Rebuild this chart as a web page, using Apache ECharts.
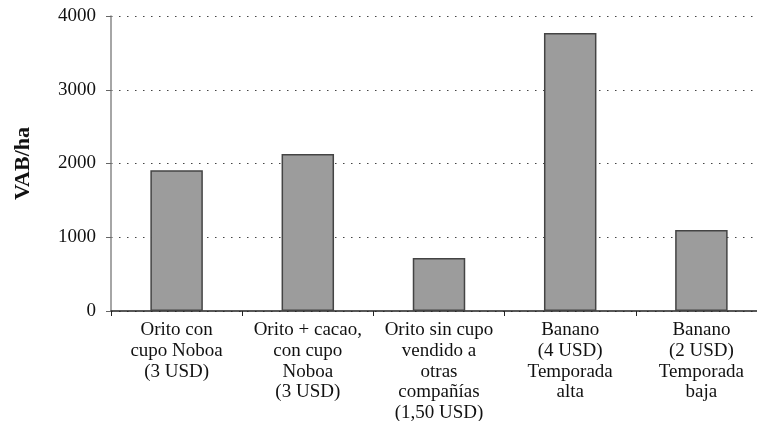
<!DOCTYPE html>
<html>
<head>
<meta charset="utf-8">
<script src="https://cdn.jsdelivr.net/npm/echarts@6/dist/echarts.min.js"></script>
<style>
  html, body { margin: 0; padding: 0; background: #ffffff; overflow: hidden; }
  #chart { width: 757px; height: 421px; }
</style>
</head>
<body>
<div id="chart"></div>
<script>
// Gross value added per hectare by product and selling channel
const categories = [
  'Orito con\ncupo Noboa\n(3 USD)',
  'Orito + cacao,\ncon cupo\nNoboa\n(3 USD)',
  'Orito sin cupo\nvendido a\notras\ncompañías\n(1,50 USD)',
  'Banano\n(4 USD)\nTemporada\nalta',
  'Banano\n(2 USD)\nTemporada\nbaja'
];
const vabValues = [1910, 2130, 720, 3770, 1100];
const yTicks = { min: 0, max: 4000, interval: 1000 };
const yName = 'VAB/ha';

const serif = '"Liberation Serif", "Times New Roman", serif';
const chart = echarts.init(document.getElementById('chart'), null, { renderer: 'canvas' });

chart.setOption({
  backgroundColor: '#ffffff',
  animation: false,
  // the last category runs slightly past the right edge of the page
  grid: { left: 111, width: 656, top: 16, bottom: 110, containLabel: false, outerBoundsMode: 'none' },
  xAxis: {
    type: 'category',
    data: categories,
    axisLine: { show: true, lineStyle: { color: '#222', width: 1.5 } },
    axisTick: { show: true, length: 5, alignWithLabel: false, lineStyle: { color: '#222', width: 1 } },
    axisLabel: {
      interval: 0,
      margin: 9,
      color: '#111',
      fontFamily: serif,
      fontSize: 19,
      lineHeight: 20.7
    },
    splitLine: { show: false }
  },
  yAxis: {
    type: 'value',
    min: yTicks.min,
    max: yTicks.max,
    interval: yTicks.interval,
    name: yName,
    nameLocation: 'middle',
    nameGap: 77,
    nameRotate: 90,
    nameTextStyle: { fontFamily: serif, fontSize: 22, fontWeight: 'bold', color: '#111' },
    axisLine: { show: true, lineStyle: { color: '#888', width: 1.5 } },
    axisTick: { show: true, length: 5, lineStyle: { color: '#666', width: 1 } },
    axisLabel: {
      margin: 15, color: '#111', fontFamily: serif, fontSize: 19,
      formatter: (v) => String(v)
    },
    splitLine: { show: true, lineStyle: { color: '#444', width: 1.2, type: [1.5, 6.5] } }
  },
  series: [{
    type: 'bar',
    data: vabValues,
    barWidth: '40%',
    itemStyle: { color: '#9c9c9c', borderColor: '#444', borderWidth: 1.5 }
  }]
});
</script>
</body>
</html>
